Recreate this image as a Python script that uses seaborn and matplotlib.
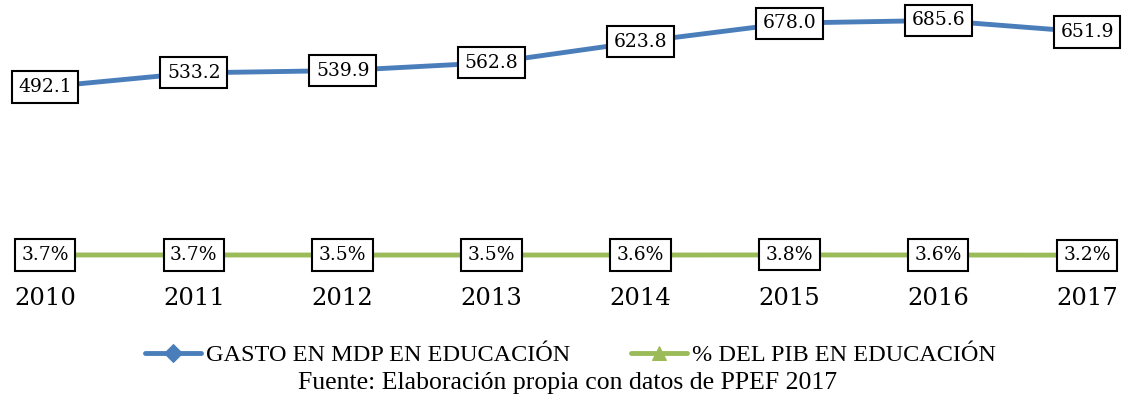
import seaborn as sns
import matplotlib.pyplot as plt
import pandas as pd

# Datos
anios = [2010, 2011, 2012, 2013, 2014, 2015, 2016, 2017]
gasto_mdp = [492.1, 533.2, 539.9, 562.8, 623.8, 678.0, 685.6, 651.9]
pct_pib = [3.7, 3.7, 3.5, 3.5, 3.6, 3.8, 3.6, 3.2]
etiqueta_gasto = 'GASTO EN MDP EN EDUCACIÓN'
etiqueta_pib = '% DEL PIB EN EDUCACIÓN'
fuente = 'Fuente: Elaboración propia con datos de PPEF 2017'

azul = '#4A7EBB'
verde = '#9BBB59'

sns.set_style('white')
plt.rcParams['font.family'] = ['DejaVu Serif']
plt.rcParams['text.color'] = 'black'
plt.rcParams['xtick.color'] = 'black'

df = pd.DataFrame({'anio': anios, 'gasto': gasto_mdp, 'pib': pct_pib})

fig = plt.figure(figsize=(11.30, 4.03), dpi=100)
ax = fig.add_axes([45 / 1130, 1 - 270 / 403, (1087 - 45) / 1130, 260 / 403])

sns.lineplot(data=df, x='anio', y='gasto', ax=ax, color=azul, linewidth=3.5,
             marker='D', markersize=9, markeredgecolor=azul, label=etiqueta_gasto)
sns.lineplot(data=df, x='anio', y='pib', ax=ax, color=verde, linewidth=3.5,
             marker='^', markersize=10, markeredgecolor=verde, label=etiqueta_pib)

caja = dict(boxstyle='square,pad=0.35', facecolor='white', edgecolor='black', linewidth=1.5)
for x, v in zip(anios, gasto_mdp):
    ax.text(x, v, f'{v:.1f}', ha='center', va='center', fontsize=13.5, color='black',
            bbox=caja, zorder=5)
for x, v in zip(anios, pct_pib):
    ax.text(x, v, f'{v:.1f}%', ha='center', va='center', fontsize=13.5, color='black',
            bbox=caja, zorder=5)

ax.set_xlim(2010, 2017)
ax.set_ylim(-40, 716)
ax.set_xticks(anios)
ax.set_xticklabels([str(a) for a in anios], fontsize=17.5)
ax.tick_params(axis='x', length=0, pad=12)
ax.set_yticks([])
ax.set_xlabel('')
ax.set_ylabel('')
for s in ax.spines.values():
    s.set_visible(False)

handles, labels = ax.get_legend_handles_labels()
ax.get_legend().remove()
fig.legend(handles, labels, loc='center', bbox_to_anchor=(0.505, 1 - 355 / 403), ncol=2,
           frameon=False, handlelength=2.3, columnspacing=2.5, handletextpad=0.2,
           prop={'family': 'Liberation Serif', 'size': 17.5})
fig.text(0.502, 1 - 383 / 403, fuente, ha='center', va='center',
         family='Liberation Serif', fontsize=18.5, color='black')

fig.savefig('out.png', dpi=100)
